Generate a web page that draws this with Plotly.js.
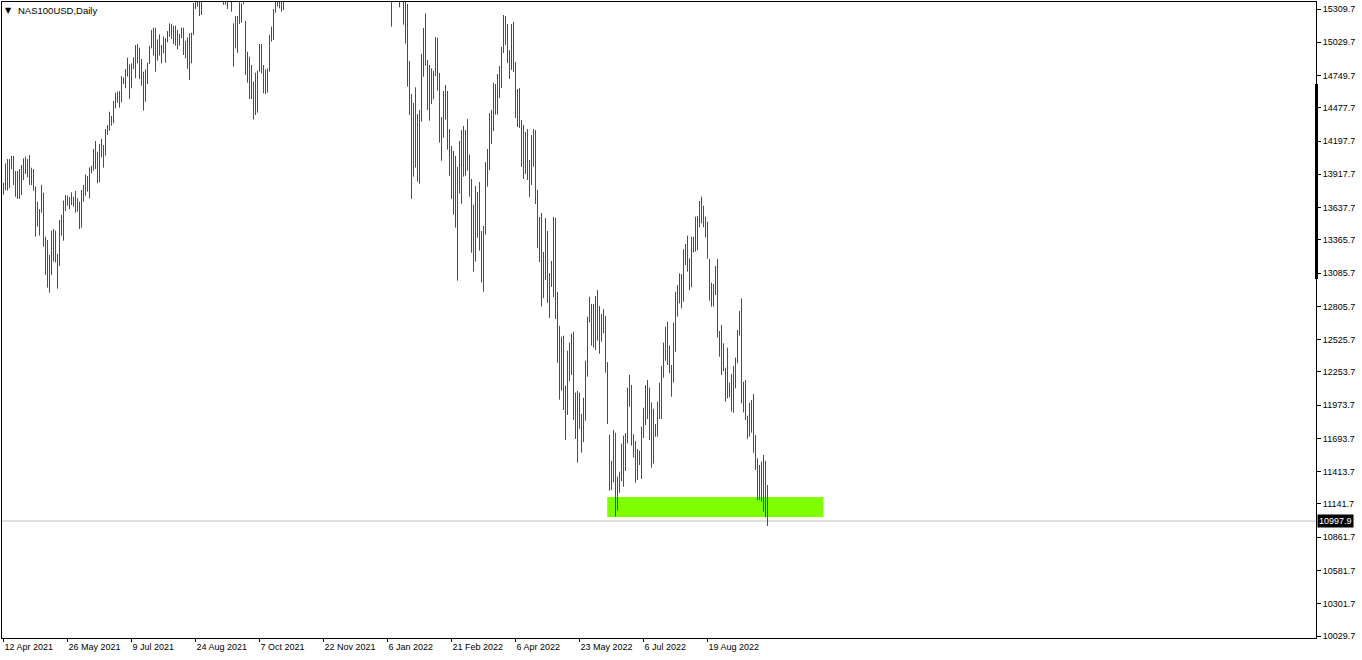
<!DOCTYPE html>
<html><head><meta charset="utf-8">
<script src="https://cdn.plot.ly/plotly-3.0.1.min.js"></script>
<style>html,body{margin:0;padding:0;background:#fff;overflow:hidden}#chart{width:1362px;height:660px}</style>
</head><body><div id="chart"></div>
<script>
// ---- data (daily bars) ----
const symbolTitle = 'NAS100USD,Daily';
const firstDay = '2021-04-12';
const closedDays = ['2021-12-24', '2022-04-15'];

const highs = [
13847,14010,14046,14046,14072,14072,13945,13945,13962,13996,
14052,14066,14046,14080,13973,13962,13814,13687,13625,13828,
13763,13392,13364,13238,13443,13457,13443,13246,13533,13575,
13696,13743,13738,13724,13766,13729,13777,13715,13687,13785,
13828,13917,13903,13976,13990,14131,14198,14108,14173,14215,
14164,14299,14333,14445,14409,14535,14605,14614,14619,14745,
14734,14804,14900,14844,14852,14903,15006,15015,14984,14889,
14782,14802,14858,14998,15133,15152,15152,15054,15096,15006,
15077,15063,15124,15189,15183,15169,15169,15133,15099,15152,
15152,15043,15071,15105,15110,15360,15420,15440,15420,15470,
15620,15650,15700,15690,15690,15680,15720,15700,15620,15630,
15560,15500,15480,15520,15490,15189,15250,15251,15420,15357,
15420,15209,14950,14908,14838,14698,14773,14790,15015,15015,
14838,14801,14810,15091,15161,15310,15420,15440,15460,15480,
15470,15600,15650,15700,15850,15900,15950,16100,16300,16340,
16330,16280,16200,16100,16260,16300,16350,16380,16520,16600,
16760,16450,16440,16450,16400,16460,16500,16470,16200,16250,
16050,16350,16400,16400,16350,16350,16100,16300,16400,16000,
15800,15950,16100,16250,16500,16550,16500,16550,16450,16550,
16550,16300,15900,15850,15600,15800,15920,15900,15600,15600,
15500,15450,15352,14872,14594,14518,14650,14425,14459,14931,
15150,15273,14880,14838,14810,14788,15074,15066,14771,14400,
14619,14670,14619,14299,14156,14114,14072,13979,14198,14291,
14324,14291,14383,14083,13878,13662,13819,13769,13853,13440,
13482,14021,14131,14434,14459,14687,14678,14762,14830,14990,
15259,15251,15183,14964,15183,15200,14863,14636,14644,14375,
14333,14274,14299,14038,14248,14299,14291,13785,13558,13592,
13263,13550,13440,13086,13188,13558,13550,12927,12640,12551,
12559,12138,12433,12500,12576,12593,12079,12093,12079,11899,
12037,12348,12719,12887,12826,12826,12893,12943,12809,12741,
12783,12725,12337,11725,11506,11764,11742,11372,11414,11650,
11717,11739,12121,12228,12143,11728,11672,11605,11591,11793,
11952,12143,12186,12121,11997,11944,11815,12003,12163,12303,
12500,12635,12677,12475,12312,12668,12929,12985,13084,13078,
13286,13331,13401,13210,13393,13393,13561,13567,13693,13729,
13653,13561,13519,13204,13005,12994,13145,13204,12598,12649,
12494,12289,12458,12163,12236,12303,12374,12606,12766,12873,
12171,12185,11885,11994,12017,12068,11722,11526,11470,11498,
11554,11506,11301
];

const lows = [
13746,13785,13780,13800,13960,13828,13729,13710,13710,13743,
13870,13920,13892,13828,13828,13780,13392,13477,13401,13595,
13308,13070,12963,12921,13070,13182,13176,12955,13146,13401,
13359,13609,13653,13623,13659,13645,13595,13603,13457,13468,
13687,13738,13771,13715,13926,13948,13962,13842,13850,14061,
13974,14075,14249,14285,14327,14347,14473,14521,14479,14524,
14678,14642,14740,14552,14642,14804,14726,14852,14720,14664,
14454,14529,14678,14847,14978,14917,14782,14875,14917,14852,
14936,14858,15029,15077,15057,15015,15001,14970,15001,15063,
14922,14894,14807,14712,14852,15090,15310,15330,15250,15260,
15450,15540,15560,15570,15580,15610,15620,15530,15450,15420,
15346,15346,15310,15400,15287,14824,14978,14942,15183,15195,
15349,14754,14689,14552,14552,14381,14417,14437,14782,14768,
14600,14594,14605,14782,15035,15049,15279,15329,15315,15287,
15301,15450,15500,15500,15600,15800,15820,15850,16050,16200,
16200,16100,15950,16000,16050,16150,16180,16280,16300,16450,
16400,16250,16200,16380,16000,16150,16000,15900,15850,15700,
15750,16050,16250,16150,16150,16050,15850,15800,15900,15750,
15550,15700,15900,16100,16250,16400,16380,16400,16300,16250,
16100,15770,15650,15600,15161,15400,15700,15400,15324,15450,
15178,15018,14656,14417,13710,13898,13974,13856,13839,14361,
14740,14832,14459,14369,14510,14549,14745,14622,14184,14032,
14226,14378,14125,13906,13710,13578,13468,13022,13755,13670,
13898,13906,13948,13729,13258,13098,13182,13384,13275,13005,
12929,13409,13814,13954,14173,14282,14420,14420,14560,14644,
14939,15007,14855,14720,14796,14779,14392,14316,14308,13979,
13878,13920,13870,13727,13828,13982,13668,13297,13179,12803,
12876,13028,12834,12708,12969,12884,12699,12330,12020,12096,
11933,11680,11891,12177,12228,11849,11689,11489,11776,11574,
11663,11843,12214,12671,12475,12458,12438,12517,12407,12508,
12578,12247,11815,11254,11259,11324,11035,11085,11237,11335,
11287,11419,11652,11961,11633,11532,11321,11344,11470,11352,
11697,11807,11857,11680,11447,11481,11708,11708,11857,11857,
12205,12348,12312,12242,12045,12163,12424,12719,12831,12789,
12845,13154,13098,12943,12966,13258,13266,13280,13471,13505,
13471,13387,13207,12853,12803,12803,12901,12542,12382,12228,
12261,12003,12031,12040,11919,11910,12115,12326,12559,11989,
11913,11849,11689,11708,11742,11573,11428,11175,11175,11161,
11077,11029,10956
];

// bar direction: 'u' = bullish bar (green), 'd' = bearish bar (red)
const dirList = [
'u','u','d','u','u','d','d','u','d','u',
'u','d','u','d','d','d','d','d','u','u',
'd','d','d','u','u','d','d','u','u','d',
'u','u','u','d','d','u','d','u','d','u',
'u','d','d','u','u','u','d','d','u','d',
'u','u','u','u','d','u','u','d','d','u',
'd','u','u','d','u','u','d','u','d','d',
'd','u','u','u','u','u','d','u','d','u',
'd','u','u','u','u','d','d','d','u','u',
'u','d','d','u','u','u','u','u','d','u',
'u','u','u','d','u','u','u','d','d','d',
'd','d','u','u','d','d','d','u','u','u',
'd','d','d','d','u','d','u','u','u','d',
'd','d','u','u','u','u','u','d','u','d',
'u','u','u','u','u','u','u','u','u','d',
'd','d','d','u','u','d','u','d','u','u',
'd','d','u','u','d','u','d','d','u','d',
'u','u','u','d','u','d','d','u','d','d',
'd','u','u','u','u','d','u','d','d','u',
'd','d','d','d','u','u','u','d','u','d',
'd','d','d','d','u','d','u','d','u','u',
'u','d','d','d','d','u','u','d','d','u',
'u','u','d','d','d','u','d','u','u','u',
'd','u','d','d','d','d','u','d','d','d',
'u','u','u','u','d','u','d','u','d','u',
'u','d','d','d','u','d','d','u','d','d',
'u','d','d','u','u','d','d','d','u','d',
'u','u','d','u','u','u','d','d','d','u',
'd','d','u','d','u','d','u','d','u','d',
'u','u','u','u','d','d','u','d','u','u',
'd','d','d','d','d','u','d','u','u','u',
'd','u','u','d','d','u','d','u','d','u',
'u','u','u','d','d','u','u','u','d','u',
'u','u','d','d','d','u','u','u','d','d',
'u','u','d','d','u','u','d','u','u','d',
'd','u','d','d','d','u','u','d','u','d',
'd','u','d','u','d','u','u','u','u','d',
'u','d','u','u','d','d','d','d','d','u',
'u','d','d'
];

const tickDates = ['2021-04-12','2021-05-26','2021-07-09','2021-08-24','2021-10-07','2021-11-22',
                   '2022-01-06','2022-02-21','2022-04-06','2022-05-23','2022-07-06','2022-08-19'];
const tickLabels = ['12 Apr 2021','26 May 2021','9 Jul 2021','24 Aug 2021','7 Oct 2021','22 Nov 2021',
                    '6 Jan 2022','21 Feb 2022','6 Apr 2022','23 May 2022','6 Jul 2022','19 Aug 2022'];
const priceTicks = [15309.7,15029.7,14749.7,14477.7,14197.7,13917.7,13637.7,13365.7,13085.7,12805.7,
                    12525.7,12253.7,11973.7,11693.7,11413.7,11141.7,10861.7,10581.7,10301.7,10029.7];
const lastPrice = 10997.9;
const zoneLow = 11032, zoneHigh = 11200, zoneStartBar = 302, zoneEndBar = 410;
const scaleMarkLow = 13036, scaleMarkHigh = 14678;

// ---- build ----
const dates = [];
{
  const d = new Date(firstDay + 'T00:00:00Z');
  while (dates.length < highs.length) {
    const wd = d.getUTCDay();
    const s = d.toISOString().slice(0, 10);
    if (wd !== 0 && wd !== 6 && closedDays.indexOf(s) < 0) dates.push(s);
    d.setUTCDate(d.getUTCDate() + 1);
  }
}
const opens = highs.map((h, i) => dirList[i] === 'u' ? lows[i] : h);
const closes = highs.map((h, i) => dirList[i] === 'u' ? h : lows[i]);

const FONT = 'Liberation Sans, Arial, sans-serif';
const PX = 1 / 1314;

const trace = {
  type: 'ohlc', x: dates, open: opens, high: highs, low: lows, close: closes,
  tickwidth: 0,
  increasing: {line: {color: '#008000', width: 1}},
  decreasing: {line: {color: '#ff0000', width: 1}},
  hoverinfo: 'skip', showlegend: false
};

const layout = {
  width: 1362, height: 660,
  margin: {l: 2, r: 46, t: 2, b: 22, pad: 0},
  paper_bgcolor: '#ffffff', plot_bgcolor: '#ffffff',
  showlegend: false,
  xaxis: {
    type: 'category', range: [-0.75, 656.25],
    tickvals: tickDates, ticktext: tickLabels,
    ticks: 'outside', ticklen: 3, tickcolor: '#000', tickwidth: 1,
    ticklabelposition: 'outside right',
    tickfont: {family: FONT, size: 9, color: '#000'},
    showline: true, mirror: true, linecolor: '#000', linewidth: 1,
    showgrid: false, zeroline: false, fixedrange: true,
    rangeslider: {visible: false}
  },
  yaxis: {
    side: 'right', range: [10012.86, 15368.65],
    tickvals: priceTicks, ticktext: priceTicks.map(v => v.toFixed(1)),
    ticks: 'outside', ticklen: 4, tickcolor: '#000', tickwidth: 1,
    tickfont: {family: FONT, size: 9, color: '#000'},
    showline: true, mirror: true, linecolor: '#000', linewidth: 1,
    showgrid: false, zeroline: false, fixedrange: true
  },
  shapes: [
    {type: 'rect', layer: 'below', xref: 'x', yref: 'y',
     x0: zoneStartBar - 0.15, x1: zoneEndBar, y0: zoneLow, y1: zoneHigh,
     fillcolor: '#7fff00', line: {width: 0}},
    {type: 'line', layer: 'below', xref: 'paper', yref: 'y',
     x0: 0, x1: 1, y0: lastPrice, y1: lastPrice,
     line: {color: '#c0c0c0', width: 1}},
    {type: 'rect', layer: 'above', xref: 'paper', yref: 'y',
     x0: 1 - PX, x1: 1 + 2 * PX, y0: scaleMarkLow, y1: scaleMarkHigh,
     fillcolor: '#000', line: {width: 0}}
  ],
  annotations: [
    {xref: 'paper', yref: 'paper', x: 0, y: 1, xanchor: 'left', yanchor: 'middle',
     xshift: 1, yshift: -8, text: '▼', showarrow: false,
     font: {family: 'DejaVu Sans', size: 8, color: '#000'}},
    {xref: 'paper', yref: 'paper', x: 0, y: 1, xanchor: 'left', yanchor: 'middle',
     xshift: 14, yshift: -8, text: symbolTitle, showarrow: false,
     font: {family: FONT, size: 9.5, color: '#000'}},
    {xref: 'paper', yref: 'y', x: 1, y: lastPrice, xanchor: 'left', yanchor: 'middle',
     xshift: 1, text: lastPrice.toFixed(1), showarrow: false,
     bgcolor: '#000', borderpad: 1,
     font: {family: FONT, size: 9, color: '#fff'}}
  ]
};

Plotly.newPlot('chart', [trace], layout, {staticPlot: true, displayModeBar: false});
</script>
</body></html>
